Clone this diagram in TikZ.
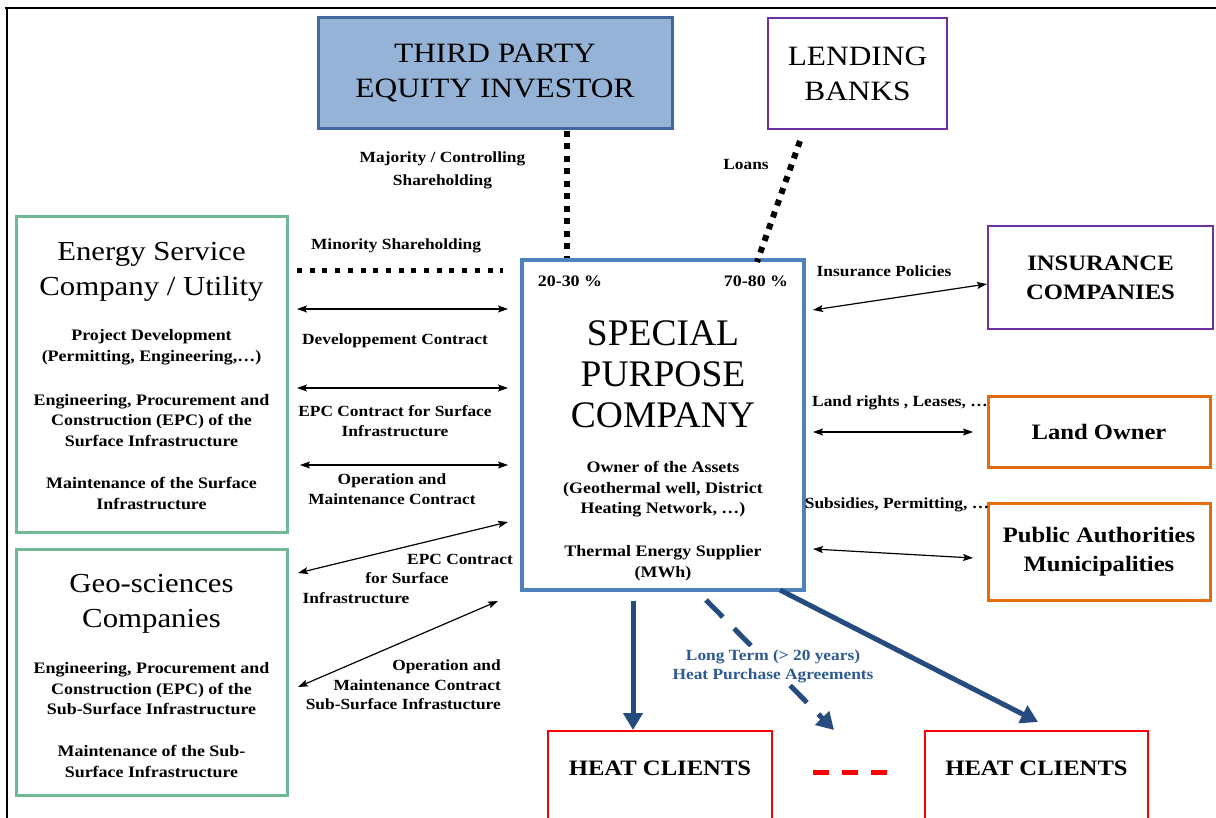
\documentclass[tikz,border=0pt]{standalone}
\usepackage{fontspec}
\setmainfont{Liberation Serif}
\newfontfamily\widefont{Liberation Serif}[FakeStretch=1.12]
\usetikzlibrary{arrows.meta,calc}
\definecolor{tpfill}{HTML}{95B3D7}
\definecolor{tpdraw}{HTML}{41699B}
\definecolor{spcblue}{HTML}{4F81BD}
\definecolor{purp}{HTML}{7030A0}
\definecolor{grn}{HTML}{70B896}
\definecolor{orng}{HTML}{E46C0A}
\definecolor{redc}{HTML}{FF0000}
\definecolor{darrow}{HTML}{264B7E}
\definecolor{bluetxt}{HTML}{2E5A94}
\begin{document}
\begin{tikzpicture}[x=1pt,y=-1pt,
  box/.style={inner sep=0pt, align=center},
  lbl/.style={inner sep=0pt, align=center, font=\widefont\bfseries\fontsize{15.5}{19.5}\selectfont},
  para/.style={inner sep=0pt, align=center, font=\widefont\bfseries\fontsize{16}{20.5}\selectfont},
  rtitle/.style={inner sep=0pt, align=center, font=\widefont\bfseries\fontsize{22}{29}\selectfont},
  gtitle/.style={inner sep=0pt, align=center, font=\widefont\fontsize{27.5}{35}\selectfont},
  biarrow/.style={line width=1.2pt, {Stealth[length=10pt,width=7pt,inset=2pt]}-{Stealth[length=10pt,width=7pt,inset=2pt]}},
  sqdots/.style={line width=6pt, dash pattern=on 6pt off 6.5pt},
  bigarrow/.style={draw=darrow, line width=5pt, -{Triangle[length=17pt,width=19pt]}}
]
\useasboundingbox (0,0) rectangle (1216,818);
\clip (0,0) rectangle (1216,818);
% frame
\draw[line width=2.5pt] (5,8) -- (1216,8);
\draw[line width=2.5pt] (7,8) -- (7,818);

% boxes
\node[box, draw=tpdraw, fill=tpfill, line width=3pt, minimum width=354, minimum height=111,
      font=\widefont\fontsize{28}{35}\selectfont] (tpe) at (495,73.5) {THIRD PARTY\\EQUITY INVESTOR};
\node[box, draw=purp, line width=2.5pt, minimum width=179, minimum height=111,
      font=\widefont\fontsize{28}{35}\selectfont] (lb) at (857.5,73.5) {LENDING\\BANKS};
\node[box, draw=grn, line width=3pt, minimum width=271, minimum height=315] (esc) at (151.5,374.5) {};
\node[box, draw=grn, line width=3pt, minimum width=271, minimum height=246] (geo) at (151.5,672) {};
\node[box, draw=spcblue, line width=4.5pt, minimum width=282, minimum height=330] (spc) at (663,425) {};
\node[rtitle, draw=purp, line width=2.5pt, minimum width=225, minimum height=103] (ins) at (1100.5,277.5) {INSURANCE\\COMPANIES};
\node[rtitle, draw=orng, line width=3pt, minimum width=222, minimum height=71] (land) at (1099,431.5) {Land Owner};
\node[rtitle, draw=orng, line width=3pt, minimum width=222, minimum height=97] (pub) at (1099,551.5) {Public Authorities\\Municipalities};
\node[box, draw=redc, line width=2pt, minimum width=224, minimum height=100] (hc1) at (660,781) {};
\node[box, draw=redc, line width=2pt, minimum width=223, minimum height=100] (hc2) at (1036.5,781) {};

% box texts
\node[gtitle] (esct) at (151.5,271.5) {Energy Service\\Company / Utility};
\node[para] (escp1) at (151.5,347) {Project Development\\(Permitting, Engineering,…)};
\node[para] (escp2) at (151.5,420.5) {Engineering, Procurement and\\Construction (EPC) of the\\Surface Infrastructure};
\node[para] (escp3) at (151.5,493.5) {Maintenance of the Surface\\Infrastructure};
\node[gtitle] (geot) at (151.5,603.5) {Geo-sciences\\Companies};
\node[para] (geop1) at (151.5,689) {Engineering, Procurement and\\Construction (EPC) of the\\Sub-Surface Infrastructure};
\node[para] (geop2) at (151.5,761.5) {Maintenance of the Sub-\\Surface Infrastructure};
\node[inner sep=0pt, align=center, font=\fontsize{37.5}{41}\selectfont] (spct) at (663,374) {SPECIAL\\PURPOSE\\COMPANY};
\node[para] (p20) at (570,281) {20-30 \%};
\node[para] (p70) at (756,281) {70-80 \%};
\node[para] (spcp1) at (663,489.5) {Owner of the Assets\\(Geothermal well, District\\Heating Network, …)};
\node[para] (spcp2) at (663,563) {Thermal Energy Supplier\\(MWh)};
\node[rtitle] (hc1t) at (660,768) {HEAT CLIENTS};
\node[rtitle] (hc2t) at (1036.5,768) {HEAT CLIENTS};

% connector labels
\node[lbl, font=\widefont\bfseries\fontsize{15.5}{23}\selectfont] (lmaj) at (442.5,170) {Majority / Controlling\\Shareholding};
\node[lbl] (lloan) at (746,165) {Loans};
\node[lbl] (lmin) at (396,246) {Minority Shareholding};
\node[lbl] (ldev) at (395,341) {Developpement Contract};
\node[lbl] (lepc) at (395,421) {EPC Contract for Surface\\Infrastructure};
\node[lbl] (lom) at (392,489) {Operation and\\Maintenance Contract};
\node[lbl, anchor=east] (lepc2a) at (513,559) {EPC Contract};
\node[lbl] (lepc2b) at (407,578) {for Surface};
\node[lbl] (lepc2c) at (356,598) {Infrastructure};
\node[lbl, align=right, anchor=east] (lom2) at (501,685) {Operation and\\Maintenance Contract\\Sub-Surface Infrastucture};
\node[lbl] (lins) at (884,271) {Insurance Policies};
\node[lbl] (lland) at (900,403) {Land rights , Leases, …};
\node[lbl] (lsub) at (897,505) {Subsidies, Permitting, …};

% connector end points
\coordinate (d1s) at (567,131); \coordinate (d1e) at (567,258);
\coordinate (d2s) at (800,141); \coordinate (d2e) at (757,262);
\coordinate (d3s) at (297,271); \coordinate (d3e) at (503,271);
\coordinate (a1s) at (297,309); \coordinate (a1e) at (508,309);
\coordinate (a2s) at (297,388); \coordinate (a2e) at (508,388);
\coordinate (a3s) at (300,465); \coordinate (a3e) at (508,465);
\coordinate (a4s) at (298,573); \coordinate (a4e) at (508,522);
\coordinate (a5s) at (298,687); \coordinate (a5e) at (498,601);
\coordinate (r1s) at (813,310); \coordinate (r1e) at (987,284);
\coordinate (r2s) at (813,432); \coordinate (r2e) at (973,432);
\coordinate (r3s) at (813,549); \coordinate (r3e) at (973,558);
\coordinate (b1s) at (633,601); \coordinate (b1e) at (633,730);
\coordinate (b2s) at (706,600); \coordinate (b2e) at (834,730);
\coordinate (b3s) at (780,590); \coordinate (b3e) at (1038,722);
\coordinate (rds) at (813,772); \coordinate (rde) at (890,772);

% dotted shareholding lines
\draw[sqdots] (d1s) -- (d1e);
\draw[sqdots] (d2s) -- (d2e);
\draw[line width=5pt, dash pattern=on 5pt off 7.7pt] (d3s) -- (d3e);

% contract arrows
\draw[biarrow] (a1s) -- (a1e);
\draw[biarrow] (a2s) -- (a2e);
\draw[biarrow] (a3s) -- (a3e);
\draw[biarrow] (a4s) -- (a4e);
\draw[biarrow] (a5s) -- (a5e);
\draw[biarrow] (r1s) -- (r1e);
\draw[biarrow] (r2s) -- (r2e);
\draw[biarrow] (r3s) -- (r3e);

% heat purchase arrows
\draw[bigarrow] (b1s) -- (b1e);
\draw[bigarrow, dash pattern=on 24pt off 16pt] (b2s) -- (b2e);
\draw[bigarrow] (b3s) -- (b3e);
\draw[draw=redc, line width=5pt, dash pattern=on 16pt off 13pt] (rds) -- (rde);
\node[lbl, text=bluetxt, fill=white, inner sep=1pt] (llt) at (773,666.5) {Long Term (> 20 years)\\Heat Purchase Agreements};
\end{tikzpicture}
\end{document}
